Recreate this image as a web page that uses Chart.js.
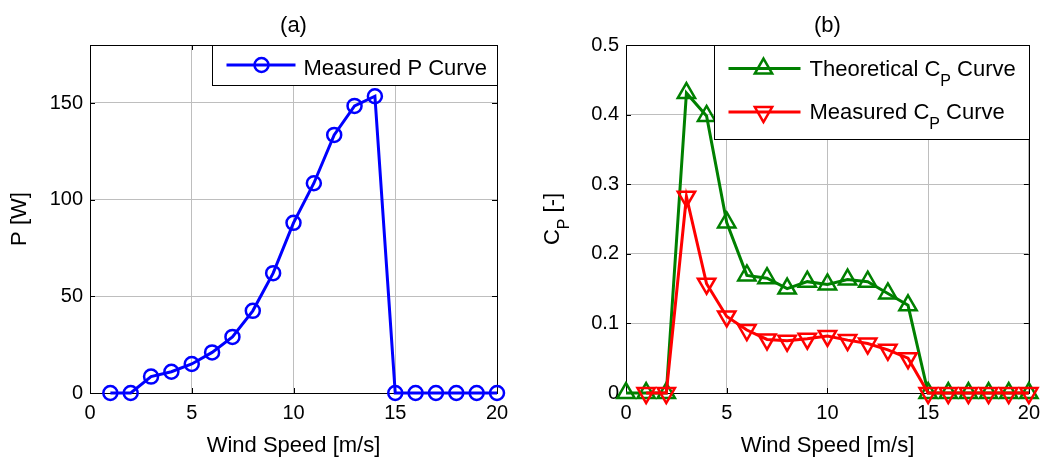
<!DOCTYPE html>
<html><head><meta charset="utf-8">
<script src="https://cdn.jsdelivr.net/npm/chart.js@4"></script>
<style>
html,body{margin:0;padding:0;background:#fff;}
#wrap{position:relative;width:1048px;height:459px;overflow:hidden;}
.box{position:absolute;top:0;width:524px;height:459px;}
</style></head><body>
<div id="wrap">
<div class="box" style="left:0"><canvas id="ca"></canvas></div>
<div class="box" style="left:524px"><canvas id="cb"></canvas></div>
</div>
<script>
// ---- data ----
const windSpeedP = [1,2,3,4,5,6,7,8,9,10,11,12,13,14,15,16,17,18,19,20];
const measuredP = [0,0,8.5,11,15,21,29,42.5,62,88,108.5,133.5,148.5,153.5,0,0,0,0,0,0];
const windSpeedTheo = [0,1,2,3,4,5,6,7,8,9,10,11,12,13,14,15,16,17,18,19,20];
const theoreticalCp = [0,0,0,0.431,0.398,0.245,0.169,0.165,0.150,0.160,0.156,0.163,0.160,0.143,0.126,0,0,0,0,0,0];
const windSpeedMeas = [1,2,3,4,5,6,7,8,9,10,11,12,13,14,15,16,17,18,19,20];
const measuredCp = [0,0,0.282,0.157,0.110,0.0905,0.077,0.075,0.078,0.082,0.076,0.071,0.062,0.050,0,0,0,0,0,0];
const xTicks = [0,5,10,15,20];
const pTicks = [0,50,100,150];
const cpTicks = [0,0.1,0.2,0.3,0.4,0.5];
const xLabel = 'Wind Speed [m/s]';

const FONT = "'Liberation Sans', Arial, Helvetica, sans-serif";
const font = sz => sz + 'px ' + FONT;

function partsWidth(ctx, parts){ let w=0; for(const p of parts){ ctx.font=font(p.size); w+=ctx.measureText(p.t).width; } return w; }
function drawParts(ctx, parts, x, y){ let cx=x; ctx.textAlign='left'; ctx.textBaseline='alphabetic';
  for(const p of parts){ ctx.font=font(p.size); ctx.fillText(p.t, cx, y+(p.dy||0)); cx+=ctx.measureText(p.t).width; } }
function marker(ctx, type, x, y, r){
  ctx.beginPath();
  if(type==='circle'){ ctx.arc(x,y,r,0,2*Math.PI); }
  else { const rot = type==='down'?Math.PI:0;
    for(let i=0;i<3;i++){ const a=rot+i*2*Math.PI/3; const px=x+Math.sin(a)*r, py=y-Math.cos(a)*r; if(i) ctx.lineTo(px,py); else ctx.moveTo(px,py); }
    ctx.closePath(); }
  ctx.stroke();
}

function makeDecor(cfg){
  return {
    id: 'decor',
    beforeDatasetsDraw(chart){
      const {ctx, chartArea:a, scales} = chart;
      ctx.save();
      ctx.strokeStyle='#000'; ctx.lineWidth=1;
      ctx.strokeRect(Math.round(a.left)+0.5, Math.round(a.top)+0.5, Math.round(a.right-a.left), Math.round(a.bottom-a.top));
      ctx.beginPath();
      for(const v of xTicks){ const px=Math.round(scales.x.getPixelForValue(v))+0.5;
        ctx.moveTo(px,a.bottom); ctx.lineTo(px,a.bottom-5); ctx.moveTo(px,a.top); ctx.lineTo(px,a.top+5); }
      for(const v of cfg.yTicks){ const py=Math.round(scales.y.getPixelForValue(v))+0.5;
        ctx.moveTo(a.left,py); ctx.lineTo(a.left+5,py); ctx.moveTo(a.right,py); ctx.lineTo(a.right-5,py); }
      ctx.stroke();
      ctx.restore();
    },
    afterDatasetsDraw(chart){
      const {ctx, chartArea:a} = chart;
      ctx.save();
      ctx.fillStyle='#000';
      const cx=(a.left+a.right)/2;
      ctx.font=font(22); ctx.textAlign='center'; ctx.textBaseline='alphabetic';
      ctx.fillText(cfg.title, cx, 32);
      ctx.fillText(xLabel, cx, 452);
      ctx.save();
      ctx.translate(cfg.ylabelX, (a.top+a.bottom)/2);
      ctx.rotate(-Math.PI/2);
      const w=partsWidth(ctx, cfg.ylabel);
      drawParts(ctx, cfg.ylabel, -w/2, 0);
      ctx.restore();
      const L=cfg.legend;
      const bx=Math.round(a.right-L.w)+0.5, by=Math.round(a.top)+0.5;
      ctx.fillStyle='#fff'; ctx.fillRect(bx,by,L.w,L.h);
      ctx.strokeStyle='#000'; ctx.lineWidth=1; ctx.strokeRect(bx,by,L.w,L.h);
      for(const e of L.entries){
        ctx.strokeStyle=e.color; ctx.lineWidth=3;
        ctx.beginPath(); ctx.moveTo(bx+L.lx1, by+e.ly); ctx.lineTo(bx+L.lx2, by+e.ly); ctx.stroke();
        ctx.lineWidth=2.5;
        marker(ctx, e.marker, bx+L.mx, by+e.ly, e.r);
        ctx.fillStyle='#000';
        drawParts(ctx, e.parts, bx+L.tx, by+e.ty);
      }
      ctx.restore();
    }
  };
}

function baseOptions(cfg){
  return {
    responsive:true, maintainAspectRatio:false, animation:false, events:[],
    layout:{padding:{left:0, top:45, right:cfg.padRight, bottom:0}},
    plugins:{legend:{display:false}, tooltip:{enabled:false}},
    scales:{
      x:{type:'linear', min:0, max:20,
        afterBuildTicks:s=>{ s.ticks=xTicks.map(v=>({value:v})); },
        afterFit:s=>{ s.height=66; },
        border:{display:false},
        grid:{color:'#bebebe', lineWidth:1, drawTicks:false},
        ticks:{font:{family:FONT,size:20}, color:'#000', padding:8, maxRotation:0, autoSkip:false}
      },
      y:{type:'linear', min:0, max:cfg.yMax,
        afterBuildTicks:s=>{ s.ticks=cfg.yTicks.map(v=>({value:v})); },
        afterFit:s=>{ s.width=cfg.yWidth; },
        border:{display:false},
        grid:{color:'#bebebe', lineWidth:1, drawTicks:false},
        ticks:{font:{family:FONT,size:20}, color:'#000', padding:7, callback:v=>String(v)}
      }
    }
  };
}

// ---- chart (a) ----
const cfgA = {
  title:'(a)', yTicks:pTicks, yMax:180, yWidth:90, padRight:27, ylabelX:26,
  ylabel:[{t:'P [W]', size:22}],
  legend:{w:285, h:40, lx1:14, lx2:83, mx:49, tx:91,
    entries:[{color:'#0000ff', marker:'circle', r:7, ly:19.5, ty:29.5, parts:[{t:'Measured P Curve', size:22}]}]}
};
new Chart(document.getElementById('ca'), {
  type:'line',
  data:{datasets:[{
    data: windSpeedP.map((x,i)=>({x, y:measuredP[i]})),
    borderColor:'#0000ff', borderWidth:3, tension:0, clip:false,
    pointStyle:'circle', pointRadius:7, pointBorderWidth:2.5,
    pointBorderColor:'#0000ff', pointBackgroundColor:'rgba(0,0,0,0)'
  }]},
  options: baseOptions(cfgA),
  plugins:[makeDecor(cfgA)]
});

// ---- chart (b) ----
const cfgB = {
  title:'(b)', yTicks:cpTicks, yMax:0.5, yWidth:102, padRight:13, ylabelX:35,
  ylabel:[{t:'C', size:22},{t:'P', size:16, dy:10},{t:' [-]', size:22}],
  legend:{w:315, h:94, lx1:14, lx2:86, mx:49, tx:95,
    entries:[
      {color:'#008000', marker:'up', r:10, ly:23, ty:30, parts:[{t:'Theoretical C', size:22},{t:'P', size:16, dy:10},{t:' Curve', size:22}]},
      {color:'#ff0000', marker:'down', r:10, ly:66.5, ty:73.5, parts:[{t:'Measured C', size:22},{t:'P', size:16, dy:10},{t:' Curve', size:22}]}
    ]}
};
new Chart(document.getElementById('cb'), {
  type:'line',
  data:{datasets:[
    {
      data: windSpeedMeas.map((x,i)=>({x, y:measuredCp[i]})), order:0,
      borderColor:'#ff0000', borderWidth:3, tension:0, clip:false,
      pointStyle:'triangle', rotation:180, pointRadius:10, pointBorderWidth:2.5,
      pointBorderColor:'#ff0000', pointBackgroundColor:'rgba(0,0,0,0)'
    },
    {
      data: windSpeedTheo.map((x,i)=>({x, y:theoreticalCp[i]})), order:1,
      borderColor:'#008000', borderWidth:3, tension:0, clip:false,
      pointStyle:'triangle', pointRadius:10, pointBorderWidth:2.5,
      pointBorderColor:'#008000', pointBackgroundColor:'rgba(0,0,0,0)'
    }
  ]},
  options: baseOptions(cfgB),
  plugins:[makeDecor(cfgB)]
});
</script>
</body></html>
